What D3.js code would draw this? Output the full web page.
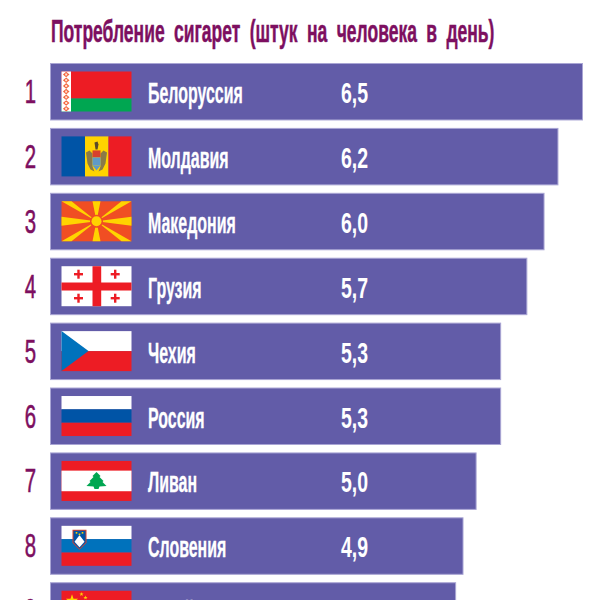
<!DOCTYPE html>
<html>
<head>
<meta charset="utf-8">
<script src="https://cdnjs.cloudflare.com/ajax/libs/d3/7.8.5/d3.min.js"></script>
<style>
    html, body { margin: 0; padding: 0; background: #fff; overflow: hidden; }
    text { font-family: "Liberation Sans Narrow", "Liberation Sans", sans-serif; }
</style>
</head>
<body>
<svg id="chart" width="600" height="600"></svg>
<script>
const titleText = 'Потребление сигарет (штук на человека в день)';
const ranks = ['1', '2', '3', '4', '5', '6', '7', '8', '9'];
const countries = ['Белоруссия', 'Молдавия', 'Македония', 'Грузия', 'Чехия', 'Россия', 'Ливан', 'Словения', 'Китай'];
const flags = ['by', 'md', 'mk', 'ge', 'cz', 'ru', 'lb', 'si', 'cn'];
const valueLabels = ['6,5', '6,2', '6,0', '5,7', '5,3', '5,3', '5,0', '4,9', '4,8'];
// bar lengths as drawn in the picture, they do not follow the printed labels exactly
const barValues = [6.5, 6.2, 6.03, 5.82, 5.5, 5.5, 5.2, 5.04, 4.95];

const red = '#ed1c24', green = '#00a651', white = '#ffffff', yellow = '#ffd400';
const blueDark = '#0054a6', blueLight = '#0072bc', purple = '#7d0f60';

const svg = d3.select('#chart');

const xScale = d3.scaleLinear().domain([0, 6.5]).range([50.5, 582.5]);
const yScale = d3.scaleBand().domain(ranks).range([63.5, 639.2]).paddingInner(0.13);

// condensed lettering, the narrow font squeezed further
function squeezed(sel, x, y, sx) {
    return sel.attr('transform', 'translate(' + x + ',' + y + ') scale(' + sx + ',1)');
}

svg.append('text')
    .text(titleText)
    .call(squeezed, 51, 41.5, 0.565)
    .attr('font-size', 31)
    .attr('font-weight', 700)
    .attr('word-spacing', 8)
    .attr('fill', purple)
    .attr('stroke', purple)
    .attr('stroke-width', 0.5);

const rows = svg.selectAll('g.row')
    .data(ranks)
    .enter().append('g')
    .attr('class', 'row');

rows.append('text')
    .text(d => d)
    .each(function (d) {
        d3.select(this).call(squeezed, 30.5, yScale(d) + 39.5, 0.6);
    })
    .attr('text-anchor', 'middle')
    .attr('font-size', 34)
    .attr('fill', purple)
    .attr('stroke', purple)
    .attr('stroke-width', 0.6);

rows.append('rect')
    .attr('x', xScale(0))
    .attr('y', d => yScale(d))
    .attr('width', (d, i) => xScale(barValues[i]) - xScale(0))
    .attr('height', yScale.bandwidth())
    .attr('fill', '#625ca8')
    .attr('stroke', '#a9a5d4')
    .attr('stroke-width', 1);

rows.append('text')
    .text((d, i) => countries[i])
    .each(function (d) {
        d3.select(this).call(squeezed, 148, yScale(d) + 39.5, 0.55);
    })
    .attr('font-size', 29)
    .attr('font-weight', 700)
    .attr('fill', '#fff')
    .attr('stroke', '#fff')
    .attr('stroke-width', 0.3);

rows.append('text')
    .text((d, i) => valueLabels[i])
    .each(function (d) {
        d3.select(this).call(squeezed, 341, yScale(d) + 39.5, 0.65);
    })
    .attr('font-size', 30)
    .attr('font-weight', 700)
    .attr('fill', '#fff');

const flagGroups = rows.append('g')
    .attr('transform', d => 'translate(61.5,' + (yScale(d) + 8) + ')');

function box(g, x, y, w, h, fill) {
    g.append('rect').attr('x', x).attr('y', y).attr('width', w).attr('height', h).attr('fill', fill);
}

function poly(g, pts, fill) {
    g.append('polygon').attr('points', pts.map(p => p.join(',')).join(' ')).attr('fill', fill);
}

function star(g, cx, cy, r, fill) {
    const pts = d3.range(10).map(i => {
        const a = -Math.PI / 2 + i * Math.PI / 5;
        const q = i % 2 ? r * 0.4 : r;
        return [cx + q * Math.cos(a), cy + q * Math.sin(a)];
    });
    poly(g, pts, fill);
}

const flagPainters = {
    by(g) {
        box(g, 0, 0, 70, 27, red);
        box(g, 0, 27, 70, 13, green);
        box(g, 0, 0, 9.5, 40, white);
        d3.range(7).forEach(i => {
            const cy = 3 + i * 5.7;
            poly(g, [[4.7, cy - 2.8], [8, cy], [4.7, cy + 2.8], [1.4, cy]], '#f4663f');
            box(g, 3.7, cy - 1, 2, 2, '#fde3d6');
        });
    },
    md(g) {
        box(g, 0, 0, 23.5, 40, blueDark);
        box(g, 23.5, 0, 23.5, 40, yellow);
        box(g, 47, 0, 23, 40, red);
        // coat of arms: wings, shield, head
        poly(g, [[24.5, 16], [28, 14], [31, 17], [31, 30], [33, 35], [29, 33], [26, 27]], '#8a7a48');
        poly(g, [[45.5, 16], [42, 14], [39, 17], [39, 30], [37, 35], [41, 33], [44, 27]], '#8a7a48');
        box(g, 31, 14, 8, 7, '#d8402c');
        box(g, 31, 21, 8, 8, '#5f9ac8');
        poly(g, [[31, 29], [39, 29], [35, 34]], '#5f9ac8');
        poly(g, [[33, 6], [36, 5], [37, 8], [36, 13], [34, 13]], '#5a4a28');
    },
    mk(g) {
        box(g, 0, 0, 70, 40, '#f04e23');
        const c = [35, 20];
        const rays = [
            [[0, 0], [10, 0]], [[60, 0], [70, 0]], [[0, 40], [10, 40]], [[60, 40], [70, 40]],
            [[31, 0], [39, 0]], [[31, 40], [39, 40]], [[0, 15.5], [0, 24.5]], [[70, 15.5], [70, 24.5]]
        ];
        rays.forEach(r => poly(g, [c, r[0], r[1]], yellow));
        g.append('circle').attr('cx', c[0]).attr('cy', c[1]).attr('r', 6.5).attr('fill', '#f04e23');
        g.append('circle').attr('cx', c[0]).attr('cy', c[1]).attr('r', 5).attr('fill', yellow);
    },
    ge(g) {
        box(g, 0, 0, 70, 40, white);
        box(g, 31, 0, 8.7, 40, red);
        box(g, 0, 16.3, 70, 8, red);
        [[17, 8], [53.7, 8], [17, 32], [53.7, 32]].forEach(p => {
            box(g, p[0] - 4.5, p[1] - 1.2, 9, 2.4, red);
            box(g, p[0] - 1.2, p[1] - 4.5, 2.4, 9, red);
        });
    },
    cz(g) {
        box(g, 0, 0, 70, 20, white);
        box(g, 0, 20, 70, 20, red);
        poly(g, [[0, 0], [27, 20], [0, 40]], blueLight);
    },
    ru(g) {
        box(g, 0, 0, 70, 13.3, white);
        box(g, 0, 13.3, 70, 13.4, blueDark);
        box(g, 0, 26.7, 70, 13.3, red);
    },
    lb(g) {
        box(g, 0, 0, 70, 40, red);
        box(g, 0, 9.7, 70, 20.6, white);
        poly(g, [[35, 11], [39, 15], [38, 16], [42, 20], [41, 21], [45, 25], [38, 25.5], [37, 28],
            [33, 28], [32, 25.5], [25, 25], [29, 21], [28, 20], [32, 16], [31, 15]], green);
    },
    si(g) {
        box(g, 0, 0, 70, 13.3, white);
        box(g, 0, 13.3, 70, 13.4, blueLight);
        box(g, 0, 26.7, 70, 13.3, red);
        poly(g, [[11, 4], [25, 4], [25, 17], [18, 24], [11, 17]], '#d8402c');
        poly(g, [[12, 4.8], [24, 4.8], [24, 16.6], [18, 22.8], [12, 16.6]], blueDark);
        poly(g, [[13, 16], [16, 12], [18, 9.5], [20, 12], [23, 16], [18, 21.5]], white);
        [[15, 7], [21, 7], [18, 8.5]].forEach(p => box(g, p[0] - 0.8, p[1] - 0.8, 1.6, 1.6, yellow));
    },
    cn(g) {
        box(g, 0, 0, 70, 40, red);
        star(g, 10.5, 10, 6.5, yellow);
        [[20, 3.5], [24, 7], [24, 12], [20, 16]].forEach(p => star(g, p[0], p[1], 2.2, yellow));
    }
};

flagGroups.each(function (d, i) {
    flagPainters[flags[i]](d3.select(this));
});
</script>
</body>
</html>
